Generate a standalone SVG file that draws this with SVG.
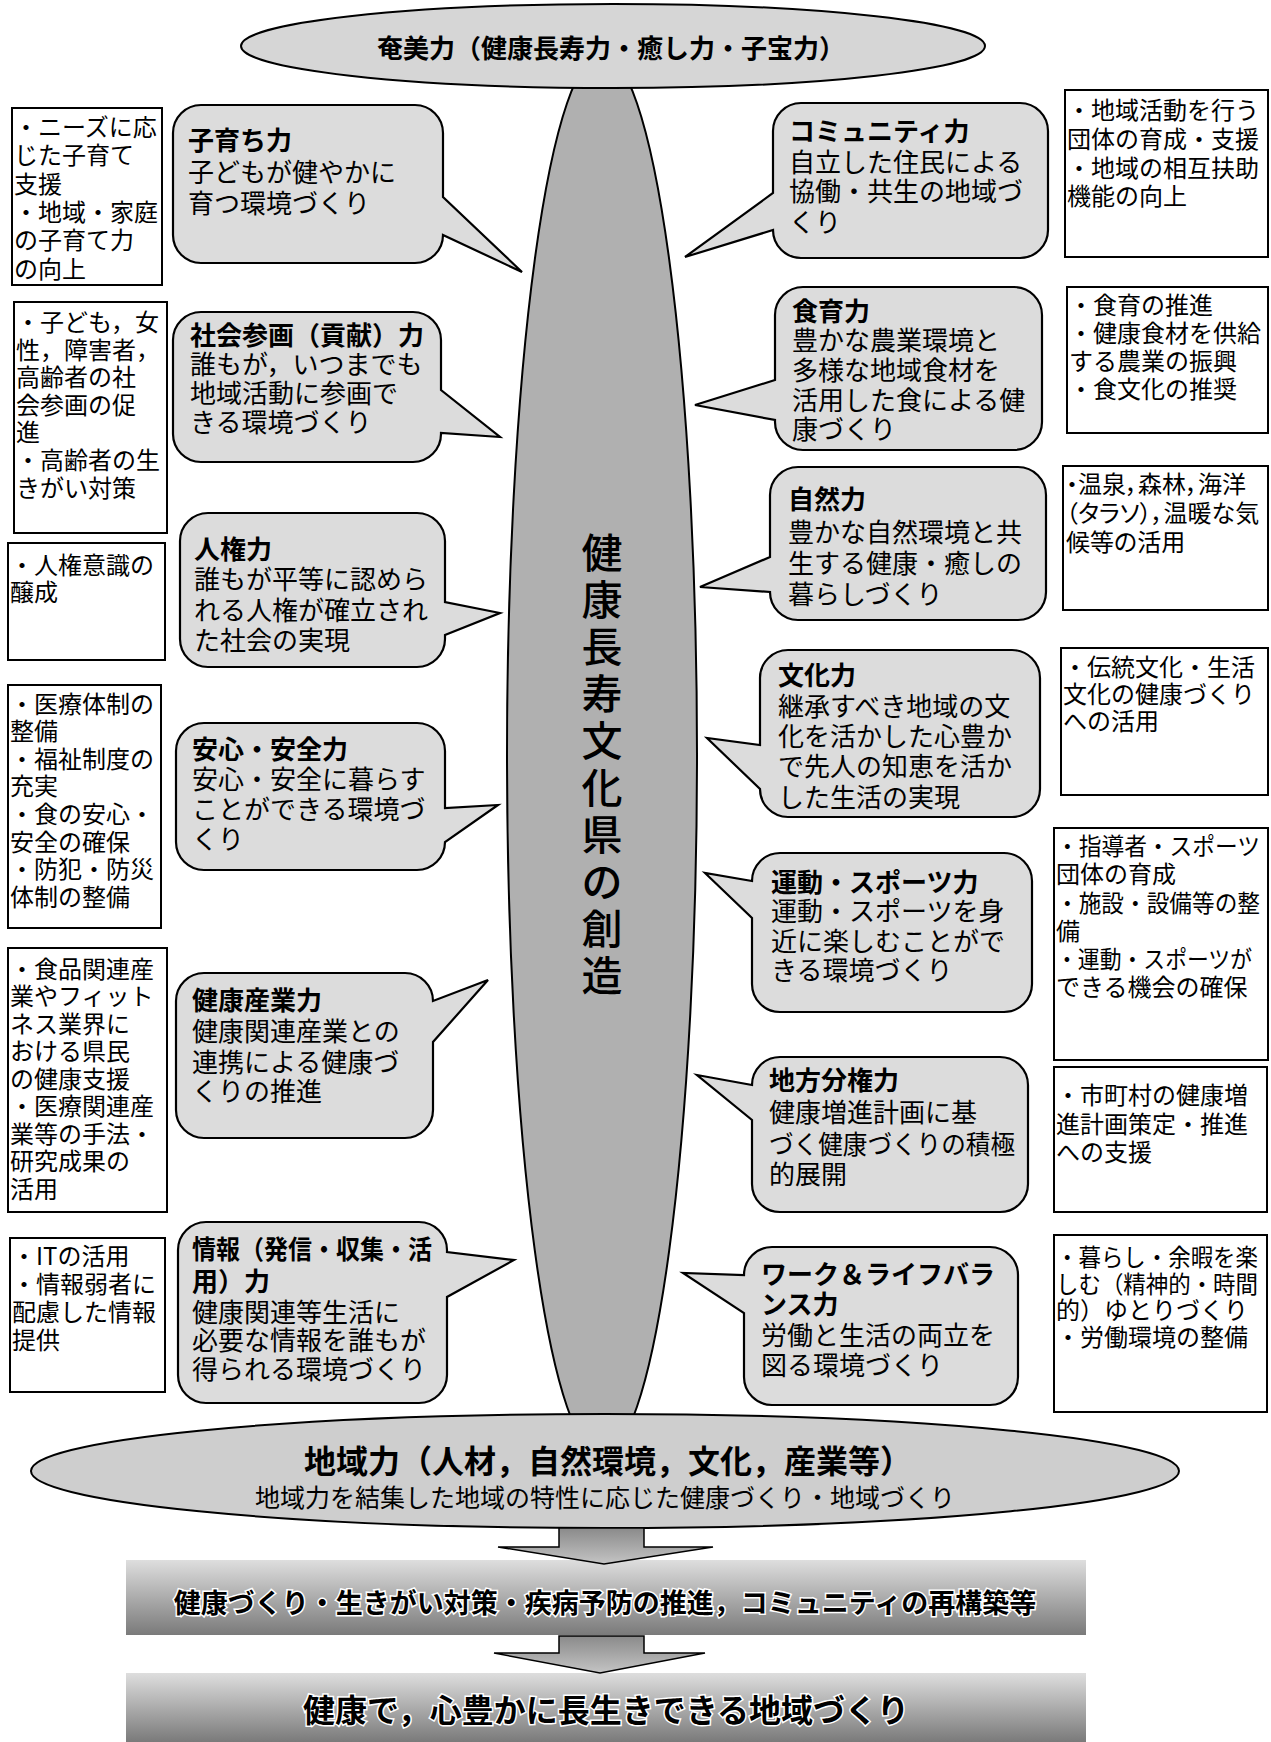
<svg xmlns="http://www.w3.org/2000/svg" width="1271" height="1742" viewBox="0 0 1271 1742">
<defs>
<style>
text{font-family:"Noto Sans CJK JP","Noto Sans CJK SC",sans-serif;fill:#000;dominant-baseline:central}
.bub{fill:#dcdcdc;stroke:#000;stroke-width:2.2}
.box{fill:#fff;stroke:#000;stroke-width:2}
.bt{font-size:26px}
.bh{font-weight:bold}
.xt{font-size:24px}
.palt{font-feature-settings:"palt"}
.arrow{stroke:#000;stroke-width:1.5}
.band{fill:url(#bandGrad)}
.emb{stroke:#fff;stroke-width:3px;paint-order:stroke;font-weight:bold}
</style>
<linearGradient id="bandGrad" x1="0" y1="0" x2="0" y2="1">
<stop offset="0" stop-color="#dedede"/>
<stop offset="1" stop-color="#7a7a7a"/>
</linearGradient>
<linearGradient id="arrGrad" x1="0" y1="0" x2="0" y2="1">
<stop offset="0" stop-color="#8a8a8a"/>
<stop offset="1" stop-color="#c4c4c4"/>
</linearGradient>
</defs>
<rect width="1271" height="1742" fill="#fff"/>

<g id="spindle">
<ellipse cx="602" cy="755" rx="95" ry="701" fill="#b0b0b0" stroke="#000" stroke-width="2"/>
<text font-size="41" font-weight="500" text-anchor="middle"><tspan x="602" y="550">健</tspan><tspan x="602" y="597">康</tspan><tspan x="602" y="644">長</tspan><tspan x="602" y="691">寿</tspan><tspan x="602" y="738">文</tspan><tspan x="602" y="785">化</tspan><tspan x="602" y="832">県</tspan><tspan x="602" y="879">の</tspan><tspan x="602" y="926">創</tspan><tspan x="602" y="973">造</tspan></text>
</g>

<g id="top-ellipse">
<ellipse cx="613" cy="46" rx="372" ry="42" fill="#d6d6d6" stroke="#000" stroke-width="2"/>
<text x="611" y="46" font-size="26" font-weight="bold" text-anchor="middle">奄美力（健康長寿力・癒し力・子宝力）</text>
</g>

<g id="bottom-ellipse">
<ellipse cx="605" cy="1471" rx="574" ry="57" fill="#cecece" stroke="#000" stroke-width="2"/>
<text x="608" y="1459" font-size="32" font-weight="bold" text-anchor="middle">地域力（人材，自然環境，文化，産業等）</text>
<text x="605" y="1496" font-size="25" text-anchor="middle">地域力を結集した地域の特性に応じた健康づくり・地域づくり</text>
</g>

<!-- left boxes -->
<g id="lbox1"><rect class="box" x="12" y="108" width="150" height="177"/>
<text class="xt"><tspan x="14" y="125">・ニーズに応</tspan><tspan x="14" y="153">じた子育て</tspan><tspan x="14" y="182">支援</tspan><tspan x="14" y="210">・地域・家庭</tspan><tspan x="14" y="238">の子育て力</tspan><tspan x="14" y="267">の向上</tspan></text></g>
<g id="lbox2"><rect class="box" x="14" y="302" width="153" height="231"/>
<text class="xt"><tspan x="16" y="320">・子ども，女</tspan><tspan x="16" y="348">性，障害者，</tspan><tspan x="16" y="375">高齢者の社</tspan><tspan x="16" y="403">会参画の促</tspan><tspan x="16" y="430">進</tspan><tspan x="16" y="458">・高齢者の生</tspan><tspan x="16" y="486">きがい対策</tspan></text></g>
<g id="lbox3"><rect class="box" x="8" y="543" width="157" height="117"/>
<text class="xt"><tspan x="10" y="563">・人権意識の</tspan><tspan x="10" y="590">醸成</tspan></text></g>
<g id="lbox4"><rect class="box" x="8" y="685" width="153" height="243"/>
<text class="xt"><tspan x="10" y="702">・医療体制の</tspan><tspan x="10" y="729">整備</tspan><tspan x="10" y="757">・福祉制度の</tspan><tspan x="10" y="784">充実</tspan><tspan x="10" y="812">・食の安心・</tspan><tspan x="10" y="840">安全の確保</tspan><tspan x="10" y="867">・防犯・防災</tspan><tspan x="10" y="895">体制の整備</tspan></text></g>
<g id="lbox5"><rect class="box" x="8" y="948" width="159" height="264"/>
<text class="xt"><tspan x="10" y="967">・食品関連産</tspan><tspan x="10" y="994">業やフィット</tspan><tspan x="10" y="1022">ネス業界に</tspan><tspan x="10" y="1049">おける県民</tspan><tspan x="10" y="1077">の健康支援</tspan><tspan x="10" y="1104">・医療関連産</tspan><tspan x="10" y="1132">業等の手法・</tspan><tspan x="10" y="1159">研究成果の</tspan><tspan x="10" y="1187">活用</tspan></text></g>
<g id="lbox6"><rect class="box" x="10" y="1238" width="155" height="154"/>
<text class="xt"><tspan x="12" y="1254">・ITの活用</tspan><tspan x="12" y="1282">・情報弱者に</tspan><tspan x="12" y="1310">配慮した情報</tspan><tspan x="12" y="1338">提供</tspan></text></g>

<!-- right boxes -->
<g id="rbox1"><rect class="box" x="1065" y="90" width="203" height="167"/>
<text class="xt"><tspan x="1067" y="108">・地域活動を行う</tspan><tspan x="1067" y="137">団体の育成・支援</tspan><tspan x="1067" y="166">・地域の相互扶助</tspan><tspan x="1067" y="194">機能の向上</tspan></text></g>
<g id="rbox2"><rect class="box" x="1067" y="287" width="201" height="146"/>
<text class="xt"><tspan x="1069" y="303">・食育の推進</tspan><tspan x="1069" y="331">・健康食材を供給</tspan><tspan x="1069" y="359">する農業の振興</tspan><tspan x="1069" y="387">・食文化の推奨</tspan></text></g>
<g id="rbox3"><rect class="box" x="1063" y="466" width="205" height="144"/>
<text class="xt palt"><tspan x="1066" y="482">・温泉，森林，海洋</tspan><tspan x="1066" y="511">（タラソ），温暖な気</tspan><tspan x="1066" y="540">候等の活用</tspan></text></g>
<g id="rbox4"><rect class="box" x="1061" y="648" width="207" height="147"/>
<text class="xt"><tspan x="1063" y="665">・伝統文化・生活</tspan><tspan x="1063" y="692">文化の健康づくり</tspan><tspan x="1063" y="719">への活用</tspan></text></g>
<g id="rbox5"><rect class="box" x="1054" y="828" width="214" height="232"/>
<text class="xt"><tspan x="1056" y="844" textLength="204" lengthAdjust="spacingAndGlyphs">・指導者・スポーツ</tspan><tspan x="1056" y="872">団体の育成</tspan><tspan x="1056" y="901" textLength="204" lengthAdjust="spacingAndGlyphs">・施設・設備等の整</tspan><tspan x="1056" y="929">備</tspan><tspan x="1056" y="957" textLength="196" lengthAdjust="spacingAndGlyphs">・運動・スポーツが</tspan><tspan x="1056" y="985">できる機会の確保</tspan></text></g>
<g id="rbox6"><rect class="box" x="1054" y="1067" width="213" height="145"/>
<text class="xt"><tspan x="1056" y="1093">・市町村の健康増</tspan><tspan x="1056" y="1122">進計画策定・推進</tspan><tspan x="1056" y="1150">への支援</tspan></text></g>
<g id="rbox7"><rect class="box" x="1054" y="1235" width="213" height="177"/>
<text class="xt"><tspan x="1056" y="1255" textLength="202" lengthAdjust="spacingAndGlyphs">・暮らし・余暇を楽</tspan><tspan x="1056" y="1282" textLength="202" lengthAdjust="spacingAndGlyphs">しむ（精神的・時間</tspan><tspan x="1056" y="1308">的）ゆとりづくり</tspan><tspan x="1056" y="1335">・労働環境の整備</tspan></text></g>

<!-- left bubbles -->
<g id="kosodachi"><path class="bub" d="M201,105 H415 A28 28 0 0 1 443,133 V197 L522,272 L443,235 A28 28 0 0 1 415,263 H201 A28 28 0 0 1 173,235 V133 A28 28 0 0 1 201,105 Z"/>
<text class="bt"><tspan x="188" y="138" class="bh">子育ち力</tspan><tspan x="188" y="170">子どもが健やかに</tspan><tspan x="188" y="201">育つ環境づくり</tspan></text></g>
<g id="shakai"><path class="bub" d="M201,312 H413 A28 28 0 0 1 441,340 V390 L500,437 L441,433 V434 A28 28 0 0 1 413,462 H201 A28 28 0 0 1 173,434 V340 A28 28 0 0 1 201,312 Z"/>
<text class="bt"><tspan x="190" y="333" class="bh">社会参画（貢献）力</tspan><tspan x="190" y="362">誰もが，いつまでも</tspan><tspan x="190" y="391">地域活動に参画で</tspan><tspan x="190" y="420">きる環境づくり</tspan></text></g>
<g id="jinken"><path class="bub" d="M208,513 H417 A28 28 0 0 1 445,541 V602 L500,613 L445,635 V639 A28 28 0 0 1 417,667 H208 A28 28 0 0 1 180,639 V541 A28 28 0 0 1 208,513 Z"/>
<text class="bt"><tspan x="194" y="547" class="bh">人権力</tspan><tspan x="194" y="577">誰もが平等に認めら</tspan><tspan x="194" y="608">れる人権が確立され</tspan><tspan x="194" y="638">た社会の実現</tspan></text></g>
<g id="anshin"><path class="bub" d="M204,723 H417 A28 28 0 0 1 445,751 V808 L498,805 L445,842 A28 28 0 0 1 417,870 H204 A28 28 0 0 1 176,842 V751 A28 28 0 0 1 204,723 Z"/>
<text class="bt"><tspan x="192" y="747" class="bh">安心・安全力</tspan><tspan x="192" y="777">安心・安全に暮らす</tspan><tspan x="192" y="807">ことができる環境づ</tspan><tspan x="192" y="837">くり</tspan></text></g>
<g id="kenkosangyo"><path class="bub" d="M204,973 H405 A28 28 0 0 1 433,1001 L488,980 L433,1042 V1110 A28 28 0 0 1 405,1138 H204 A28 28 0 0 1 176,1110 V1001 A28 28 0 0 1 204,973 Z"/>
<text class="bt"><tspan x="192" y="998" class="bh">健康産業力</tspan><tspan x="192" y="1029">健康関連産業との</tspan><tspan x="192" y="1060">連携による健康づ</tspan><tspan x="192" y="1089">くりの推進</tspan></text></g>
<g id="joho"><path class="bub" d="M206,1222 H419 A28 28 0 0 1 447,1250 V1252 L514,1260 L447,1297 V1375 A28 28 0 0 1 419,1403 H206 A28 28 0 0 1 178,1375 V1250 A28 28 0 0 1 206,1222 Z"/>
<text class="bt"><tspan x="192" y="1247" class="bh" textLength="240" lengthAdjust="spacingAndGlyphs">情報（発信・収集・活</tspan><tspan x="192" y="1279" class="bh">用）力</tspan><tspan x="192" y="1310">健康関連等生活に</tspan><tspan x="192" y="1338">必要な情報を誰もが</tspan><tspan x="192" y="1367">得られる環境づくり</tspan></text></g>

<!-- right bubbles -->
<g id="community"><path class="bub" d="M801,103 H1020 A28 28 0 0 1 1048,131 V230 A28 28 0 0 1 1020,258 H801 A28 28 0 0 1 773,230 L685,257 L773,193 V131 A28 28 0 0 1 801,103 Z"/>
<text class="bt"><tspan x="789" y="129" class="bh">コミュニティ力</tspan><tspan x="789" y="160">自立した住民による</tspan><tspan x="789" y="189">協働・共生の地域づ</tspan><tspan x="789" y="220">くり</tspan></text></g>
<g id="shokuiku"><path class="bub" d="M803,287 H1014 A28 28 0 0 1 1042,315 V422 A28 28 0 0 1 1014,450 H803 A28 28 0 0 1 775,422 V420 L695,405 L775,380 V315 A28 28 0 0 1 803,287 Z"/>
<text class="bt"><tspan x="792" y="309" class="bh">食育力</tspan><tspan x="792" y="338">豊かな農業環境と</tspan><tspan x="792" y="368">多様な地域食材を</tspan><tspan x="792" y="398">活用した食による健</tspan><tspan x="792" y="427">康づくり</tspan></text></g>
<g id="shizen"><path class="bub" d="M798,467 H1018 A28 28 0 0 1 1046,495 V592 A28 28 0 0 1 1018,620 H798 A28 28 0 0 1 770,592 L700,587 L770,557 V495 A28 28 0 0 1 798,467 Z"/>
<text class="bt"><tspan x="788" y="497" class="bh">自然力</tspan><tspan x="788" y="530">豊かな自然環境と共</tspan><tspan x="788" y="561">生する健康・癒しの</tspan><tspan x="788" y="592">暮らしづくり</tspan></text></g>
<g id="bunka"><path class="bub" d="M788,650 H1012 A28 28 0 0 1 1040,678 V789 A28 28 0 0 1 1012,817 H788 A28 28 0 0 1 760,789 L707,738 L760,745 V678 A28 28 0 0 1 788,650 Z"/>
<text class="bt"><tspan x="778" y="673" class="bh">文化力</tspan><tspan x="778" y="704">継承すべき地域の文</tspan><tspan x="778" y="734">化を活かした心豊か</tspan><tspan x="778" y="764">で先人の知恵を活か</tspan><tspan x="778" y="795">した生活の実現</tspan></text></g>
<g id="undo"><path class="bub" d="M780,853 H1004 A28 28 0 0 1 1032,881 V984 A28 28 0 0 1 1004,1012 H780 A28 28 0 0 1 752,984 V918 L705,873 L752,881 A28 28 0 0 1 780,853 Z"/>
<text class="bt"><tspan x="771" y="880" class="bh">運動・スポーツ力</tspan><tspan x="771" y="909">運動・スポーツを身</tspan><tspan x="771" y="939">近に楽しむことがで</tspan><tspan x="771" y="968">きる環境づくり</tspan></text></g>
<g id="chiho"><path class="bub" d="M780,1057 H1000 A28 28 0 0 1 1028,1085 V1184 A28 28 0 0 1 1000,1212 H780 A28 28 0 0 1 752,1184 V1120 L697,1075 L752,1085 A28 28 0 0 1 780,1057 Z"/>
<text class="bt"><tspan x="769" y="1078" class="bh">地方分権力</tspan><tspan x="769" y="1110">健康増進計画に基</tspan><tspan x="769" y="1142" textLength="246" lengthAdjust="spacingAndGlyphs">づく健康づくりの積極</tspan><tspan x="769" y="1172">的展開</tspan></text></g>
<g id="worklife"><path class="bub" d="M772,1247 H990 A28 28 0 0 1 1018,1275 V1377 A28 28 0 0 1 990,1405 H772 A28 28 0 0 1 744,1377 V1313 L683,1273 L744,1275 A28 28 0 0 1 772,1247 Z"/>
<text class="bt"><tspan x="761" y="1272" class="bh">ワーク＆ライフバラ</tspan><tspan x="761" y="1302" class="bh">ンス力</tspan><tspan x="761" y="1333">労働と生活の両立を</tspan><tspan x="761" y="1363">図る環境づくり</tspan></text></g>

<!-- bottom bands -->
<g id="band1"><rect class="band" x="126" y="1560" width="960" height="75"/>
<text class="emb" x="605" y="1601" font-size="27" text-anchor="middle">健康づくり・生きがい対策・疾病予防の推進，コミュニティの再構築等</text></g>
<g id="band2"><rect class="band" x="126" y="1673" width="960" height="69"/>
<text class="emb" x="606" y="1708" font-size="32" text-anchor="middle">健康で，心豊かに長生きできる地域づくり</text></g>

<g id="connectors">
<path class="arrow" style="fill:url(#arrGrad)" d="M559,1528 H644 V1547 H713 L604,1564 L498,1547 H559 Z"/>
<path class="arrow" style="fill:url(#arrGrad)" d="M559,1636 H644 V1653 H705 L600,1673 L494,1653 H559 Z"/>
</g>
</svg>
